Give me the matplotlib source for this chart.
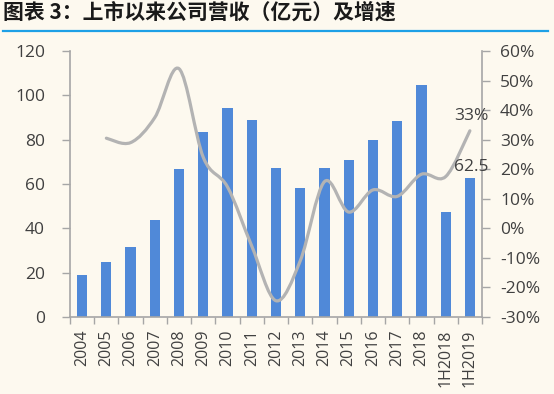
import matplotlib
matplotlib.use("Agg")
import matplotlib.pyplot as plt
from matplotlib.path import Path
from matplotlib.patches import PathPatch
from matplotlib.lines import Line2D
import numpy as np

plt.rcParams['font.family'] = ['Open Sans', 'DejaVu Sans']

categories = ["2004", "2005", "2006", "2007", "2008", "2009", "2010", "2011", "2012",
              "2013", "2014", "2015", "2016", "2017", "2018", "1H2018", "1H2019"]
revenue = [18.8, 24.7, 31.7, 43.6, 66.9, 83.4, 94.3, 88.9, 67.4,
           58.3, 67.4, 71.0, 80.0, 88.6, 104.6, 47.2, 62.5]
growth = [None, 30.5, 29.0, 37.5, 54.0, 24.0, 14.0, -6.0, -24.5,
          -11.0, 15.8, 5.5, 13.0, 10.8, 18.3, 17.5, 33.0]
left_ticks = [0, 20, 40, 60, 80, 100, 120]
right_ticks = [-30, -20, -10, 0, 10, 20, 30, 40, 50, 60]
title = "图表 3：上市以来公司营收（亿元）及增速"
label_growth = "33%"
label_rev = "62.5"

BG = "#FDF9EF"
BAR = "#5089D8"
LINE = "#B3B3B3"
AX = "#A6A6A6"
TXT = "#404040"

fig = plt.figure(figsize=(5.54, 3.94), dpi=100, facecolor=BG)
ax = fig.add_axes([70/554, 1-317/394, (482-70)/554, (317-51)/394])
ax.set_facecolor(BG)
x = np.arange(len(categories))
ax.bar(x, revenue, width=0.42, color=BAR, zorder=2)
ax.set_xlim(-0.5, len(categories)-0.5)
ax.set_ylim(0, 120)
ax.set_yticks(left_ticks)
ax.set_yticklabels([str(v) for v in left_ticks])
ax.set_xticks(x)
ax.set_xticklabels(categories, rotation=90)
ax.set_xticks(np.arange(len(categories)+1)-0.5, minor=True)
ax.tick_params(axis='x', which='major', length=0, pad=9, labelsize=11.5, colors=TXT)
ax.tick_params(axis='x', which='minor', length=5, color=AX, width=1)
ax.tick_params(axis='y', length=6, color=AX, width=1, labelsize=12.5, labelcolor=TXT, pad=12)
ax.spines['top'].set_visible(False)
ax.spines['right'].set_visible(False)
for s in ['left', 'bottom']:
    ax.spines[s].set_color(AX)
    ax.spines[s].set_linewidth(1.2)

ax2 = ax.twinx()
ax2.set_ylim(-30, 60)
ax2.set_yticks(right_ticks)
ax2.set_yticklabels([f"{v}%" for v in right_ticks])
ax2.tick_params(axis='y', length=6, color=AX, width=1, labelsize=12.5, labelcolor=TXT, pad=7)
for s in ['top', 'left', 'bottom']:
    ax2.spines[s].set_visible(False)
ax2.spines['right'].set_color(AX)
ax2.spines['right'].set_linewidth(1.2)

# smoothed line (Bezier through the data points, like Excel's smoothed line)
pts = [(i, g) for i, g in enumerate(growth) if g is not None]
P = np.array(pts, dtype=float)
verts = [tuple(P[0])]
codes = [Path.MOVETO]
n = len(P)
for i in range(n-1):
    p0 = P[i-1] if i > 0 else P[i]
    p1 = P[i]
    p2 = P[i+1]
    p3 = P[i+2] if i+2 < n else P[i+1]
    c1 = p1 + (p2 - p0)/6.0
    c2 = p2 - (p3 - p1)/6.0
    verts += [tuple(c1), tuple(c2), tuple(p2)]
    codes += [Path.CURVE4]*3
patch = PathPatch(Path(verts, codes), facecolor='none', edgecolor=LINE, lw=2.3,
                  capstyle='round', joinstyle='round', zorder=3)
ax2.add_patch(patch)

ax2.annotate(label_growth, xy=(x[-1], growth[-1]), xytext=(1, 11), textcoords='offset points',
             ha='center', va='center', fontsize=12.5, color=TXT, zorder=5, annotation_clip=False)
ax2.annotate(label_rev, xy=(x[-1], revenue[-1]), xycoords=ax.transData, xytext=(1, 8),
             textcoords='offset points', ha='center', va='center', fontsize=12.5, color=TXT,
             zorder=5, annotation_clip=False)

fig.text(3/554, 1-12/394, title, ha='left', va='center', fontsize=15, fontweight='bold',
         color='#1a1a1a', family=['Noto Sans CJK SC', 'DejaVu Sans'])
fig.add_artist(Line2D([3/554, 548/554], [1-31/394, 1-31/394], color="#1EA0E6", lw=1.6))

fig.savefig("out.png", dpi=100, facecolor=BG)
